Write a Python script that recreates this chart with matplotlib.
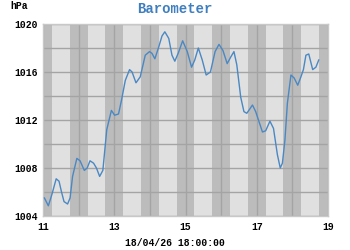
import matplotlib
matplotlib.use("Agg")
import matplotlib.pyplot as plt

# time in days (day of month, April 2018) and pressure in hPa
days = [11.04, 11.15, 11.25, 11.37, 11.45, 11.52, 11.59, 11.69, 11.76, 11.83, 11.95, 12.04,
        12.16, 12.24, 12.32, 12.42, 12.50, 12.59, 12.68, 12.79, 12.92, 13.01, 13.12, 13.20,
        13.31, 13.43, 13.50, 13.61, 13.73, 13.87, 13.99, 14.06, 14.14, 14.25, 14.34, 14.42,
        14.53, 14.62, 14.70, 14.80, 14.92, 15.05, 15.17, 15.26, 15.36, 15.47, 15.58, 15.70,
        15.83, 15.94, 16.05, 16.17, 16.28, 16.36, 16.44, 16.55, 16.64, 16.72, 16.80, 16.88,
        16.97, 17.07, 17.16, 17.25, 17.37, 17.47, 17.58, 17.66, 17.72, 17.79, 17.86, 17.96,
        18.05, 18.15, 18.24, 18.31, 18.38, 18.46, 18.57, 18.66, 18.74]
pressure = [1005.5, 1004.85, 1005.8, 1007.1, 1006.9, 1006.0, 1005.2, 1005.0, 1005.5, 1007.3, 1008.8, 1008.6,
            1007.8, 1008.0, 1008.6, 1008.4, 1008.0, 1007.3, 1007.8, 1011.2, 1012.8, 1012.4, 1012.5, 1013.6,
            1015.3, 1016.2, 1016.0, 1015.1, 1015.6, 1017.4, 1017.7, 1017.55, 1017.1, 1018.1, 1019.0, 1019.35,
            1018.8, 1017.4, 1016.9, 1017.6, 1018.6, 1017.7, 1016.4, 1017.0, 1018.0, 1017.0, 1015.75, 1016.0,
            1017.7, 1018.3, 1017.8, 1016.7, 1017.3, 1017.7, 1016.6, 1013.9, 1012.7, 1012.56, 1012.9, 1013.25,
            1012.7, 1011.8, 1011.0, 1011.1, 1011.9, 1011.3, 1009.1, 1008.0, 1008.4, 1010.3, 1013.4, 1015.75,
            1015.5, 1014.9, 1015.6, 1016.2, 1017.4, 1017.5, 1016.2, 1016.4, 1017.0]

x_ticks = [11, 13, 15, 17, 19]
y_ticks = [1004, 1008, 1012, 1016, 1020]
night_centres = [11, 12, 13, 14, 15, 16, 17, 18, 19]

title = "Barometer"
unit = "hPa"
footer = "18/04/26 18:00:00"

mono = ["Liberation Mono", "DejaVu Sans Mono"]

fig = plt.figure(figsize=(3.5, 2.5), dpi=100)
ax = fig.add_axes([43/350, 34/250, 285/350, 192/250])
ax.set_facecolor("#e0e0e0")
for c in night_centres:
    ax.axvspan(c - 0.25, c + 0.25, color="#bcbcbc", lw=0, zorder=0)
for d in range(11, 20):
    ax.axvline(d, color="#a4a4a4", lw=1, zorder=1)
for p in range(1004, 1021, 2):
    ax.axhline(p, color="#a4a4a4", lw=1, zorder=1)

ax.plot(days, pressure, color="#4a88c4", lw=1.0, zorder=3)

ax.set_xlim(11, 19)
ax.set_ylim(1004, 1020)
ax.set_xticks(x_ticks)
ax.set_yticks(y_ticks)
ax.set_xticklabels([str(t) for t in x_ticks], family=mono, weight="bold", fontsize=7)
ax.set_yticklabels([str(t) for t in y_ticks], family=mono, weight="bold", fontsize=7)
ax.tick_params(length=0, pad=4)
for s in ax.spines.values():
    s.set_color("#c8c8c8")
    s.set_linewidth(1)

fig.text(0.5, 1 - 9/250, title, ha="center", va="center", family=mono, weight="bold",
         fontsize=10, color="#3f7fbf")
fig.text(10/350, 1 - 6/250, unit, ha="left", va="center", family=mono, weight="bold",
         fontsize=7, color="black")
fig.text(175/350, 1 - 243/250, footer, ha="center", va="center", family=mono,
         weight="bold", fontsize=7, color="black")

fig.savefig("out.png", dpi=100)
